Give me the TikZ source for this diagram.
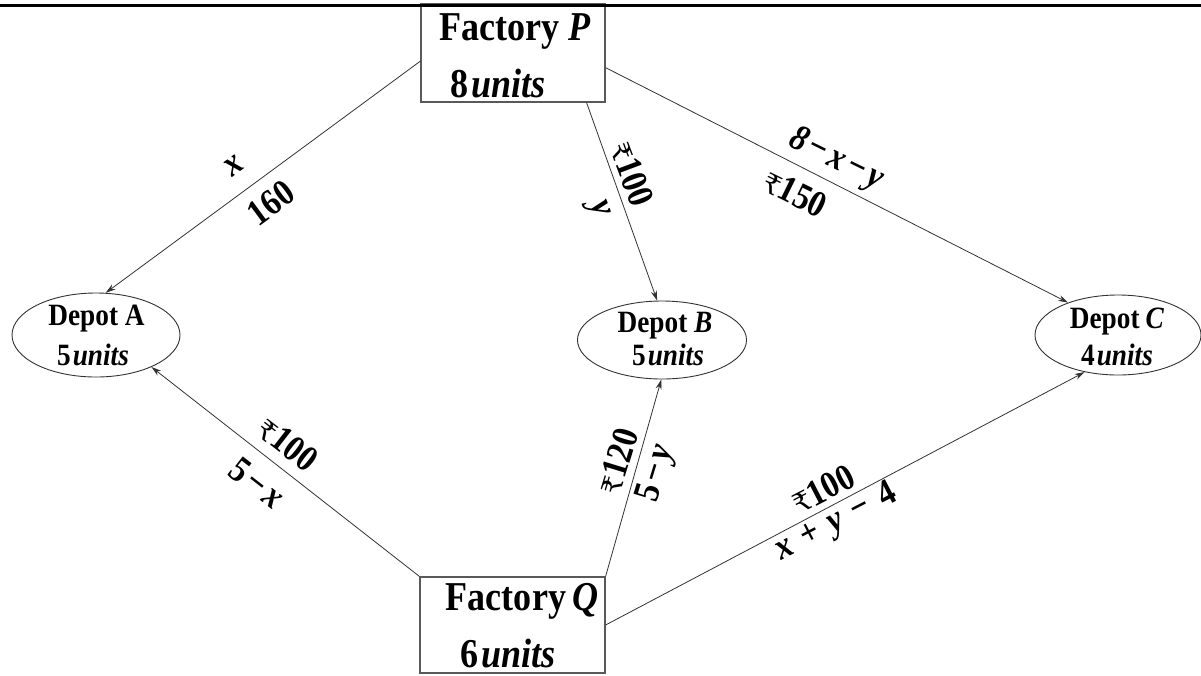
\documentclass[tikz,border=0pt]{standalone}
\usepackage{fontspec}
\setmainfont{Liberation Serif}[FakeStretch=0.88]
\newfontfamily\rupfont{DejaVu Serif}
\usetikzlibrary{arrows.meta,shapes.geometric}
\newcommand\rs{{\fontsize{27}{27}\selectfont\mdseries\upshape\iffontchar\font"20B9 \char"20B9\else{\rupfont\char"20B9}\fi}}
\begin{document}
\begin{tikzpicture}[x=1pt,y=-1pt,
 box/.style={draw=black!65, line width=1.2pt, inner sep=0pt},
 depot/.style={draw=black!80, ellipse, line width=0.9pt, inner sep=0pt},
 conn/.style={draw=black!80, line width=0.8pt, -{Stealth[length=10pt,width=6pt]}},
 big/.style={font=\fontsize{41}{41}\selectfont\bfseries, inner sep=0pt},
 dep/.style={font=\fontsize{31}{31}\selectfont\bfseries, inner sep=0pt},
 lbl/.style={font=\fontsize{37}{37}\selectfont\bfseries, inner sep=0pt}]
\useasboundingbox (0,0) rectangle (1201,675);
\fill[white] (0,0) rectangle (1201,675);
% boxes and depots
\node[box, minimum width=184pt, minimum height=98pt] (P) at (513,53) {};
\node[box, minimum width=185pt, minimum height=96pt] (Q) at (512.5,625) {};
\node[depot, minimum width=168pt, minimum height=84pt] (A) at (96,335) {};
\node[depot, minimum width=169pt, minimum height=78pt] (B) at (662,340) {};
\node[depot, minimum width=166pt, minimum height=80pt] (C) at (1118,335) {};
% top rule
\coordinate (TL) at (0,5.3);
\coordinate (TR) at (1201,5.3);
\draw[line width=3.5pt] (TL) -- (TR);
% texts
\node[big, anchor=base] (Pt) at (515,40) {Factory \textit{P}};
\node[big, anchor=base] (Pu) at (498,97) {8\hspace{3pt}\textit{units}};
\node[big, anchor=base] (Qt) at (522,610) {Factory\hspace{6pt}\textit{Q}};
\node[big, anchor=base] (Qu) at (508,667) {6\hspace{3pt}\textit{units}};
\node[dep, anchor=base] (At) at (96.5,325) {Depot A};
\node[dep, anchor=base] (Au) at (93,365) {5\hspace{2pt}\textit{units}};
\node[dep, anchor=base] (Bt) at (665,332) {Depot \textit{B}};
\node[dep, anchor=base] (Bu) at (668,365) {5\hspace{2pt}\textit{units}};
\node[dep, anchor=base] (Ct) at (1117,328) {Depot\hspace{6pt}\textit{C}};
\node[dep, anchor=base] (Cu) at (1117,365) {4\hspace{2pt}\textit{units}};
% connectors
\draw[conn] (P.185.3) -- (A.77.9);
\draw[conn] (P.-34) -- (B.97.3);
\draw[conn] (P.-9) -- (C.147.4);
\draw[conn] (Q.north west) -- (A.-30.7);
\draw[conn] (Q.north east) -- (B.-91.5);
\draw[conn] (Q.east) -- (C.-132);
% labels
\node[lbl, rotate=36.4] (lx) at (234,166) {\textit{x}};
\node[lbl, rotate=36.4] (l160) at (271,203) {160};
\node[lbl, rotate=-69.5] (lpb1) at (632,174) {\rs100};
\node[lbl, rotate=-69.5] (lpb2) at (597,210) {\textit{y}};
\node[lbl, rotate=-26.2] (lpc1) at (836,160) {\textit{8\hspace{3pt}−\hspace{4pt}x\hspace{3pt}−\hspace{4pt}y}};
\node[lbl, rotate=-26.2] (lpc2) at (795,193) {\rs150};
\node[lbl, rotate=-38] (lqa1) at (288,444) {\rs100};
\node[lbl, rotate=-38] (lqa2) at (257,483) {5\hspace{4pt}−\hspace{4pt}\textit{x}};
\node[lbl, rotate=73] (lqb1) at (618,461) {\rs120};
\node[lbl, rotate=73] (lqb2) at (657,474) {5\hspace{4pt}−\hspace{4pt}\textit{y}};
\node[lbl, rotate=27.4] (lqc1) at (823,489) {\rs100};
\node[lbl, rotate=27.4] (lqc2) at (836,523) {\textit{x}\hspace{12pt}+\hspace{12pt}\textit{y}\hspace{12pt}−\hspace{12pt}4};
\end{tikzpicture}
\end{document}
